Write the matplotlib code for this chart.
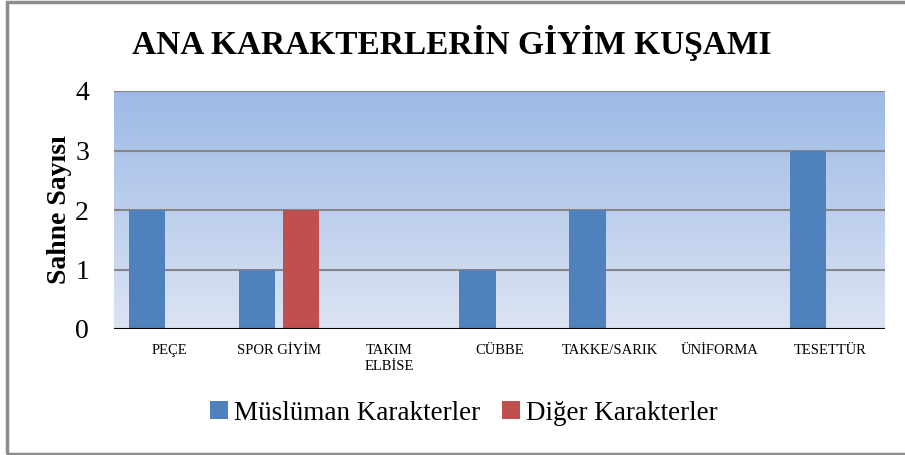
import matplotlib
matplotlib.use("Agg")
import matplotlib.pyplot as plt
import numpy as np
from matplotlib.colors import LinearSegmentedColormap
from matplotlib.patches import Rectangle

categories = ["PEÇE", "SPOR GİYİM", "TAKIM\nELBİSE", "CÜBBE", "TAKKE/SARIK", "ÜNİFORMA", "TESETTÜR"]
muslim = [2, 1, 0, 1, 2, 0, 3]
other = [0, 2, 0, 0, 0, 0, 0]
yticks = [0, 1, 2, 3, 4]
series_names = ["Müslüman Karakterler", "Diğer Karakterler"]
title = "ANA KARAKTERLERİN GİYİM KUŞAMI"
ylabel = "Sahne Sayısı"

serif = ["Liberation Serif", "DejaVu Serif"]
plt.rcParams["font.family"] = serif

W, H = 905, 455
fig = plt.figure(figsize=(W / 100, H / 100), dpi=100)
ax = fig.add_axes([114 / W, 1 - 329 / H, (885 - 114) / W, (329 - 91) / H])

# gradient background
cmap = LinearSegmentedColormap.from_list("g", ["#DCE4F3", "#9DB9E6"])
grad = np.linspace(0, 1, 256).reshape(-1, 1)
ax.imshow(grad, aspect="auto", cmap=cmap, origin="lower",
          extent=[-0.5, len(categories) - 0.5, 0, 4], zorder=0)

x = np.arange(len(categories))
bw = 0.33
ax.bar(x - 0.2, muslim, bw, color="#4F81BD", zorder=3, label=series_names[0])
ax.bar(x + 0.2, other, bw, color="#C0504D", zorder=3, label=series_names[1])

ax.set_xlim(-0.5, len(categories) - 0.5)
ax.set_ylim(0, 4)
ax.set_yticks(yticks)
ax.set_yticklabels([str(t) for t in yticks], fontsize=20)
for t in yticks[1:]:
    ax.axhline(t, color="#868686", lw=1.5, zorder=2)
ax.axhline(0, color="black", lw=1.5, zorder=4)

ax.set_xticks(x)
ax.set_xticklabels(categories, fontsize=10.5, linespacing=1.3, va="top")
ax.tick_params(axis="x", length=0, pad=11)
ax.tick_params(axis="y", length=0, pad=18)
for s in ax.spines.values():
    s.set_visible(False)

ax.set_ylabel(ylabel, fontsize=20, fontweight="bold", labelpad=2)

fig.text(452 / W, 1 - 43 / H, title, fontsize=24, fontweight="bold",
         ha="center", va="center")

leg = fig.legend(loc="center", bbox_to_anchor=(464 / W, 1 - 413 / H), ncol=2,
                 frameon=False, fontsize=19.5, handlelength=0.65, handleheight=0.65,
                 handletextpad=0.25, columnspacing=0.8)

# outer border
fig.patches.append(Rectangle((6.5 / W, 1.5 / H), 1.2, (H - 3.5) / H,
                             transform=fig.transFigure, fill=False,
                             edgecolor="#8C8C8C", lw=2.5))

fig.savefig("out.png", dpi=100)
